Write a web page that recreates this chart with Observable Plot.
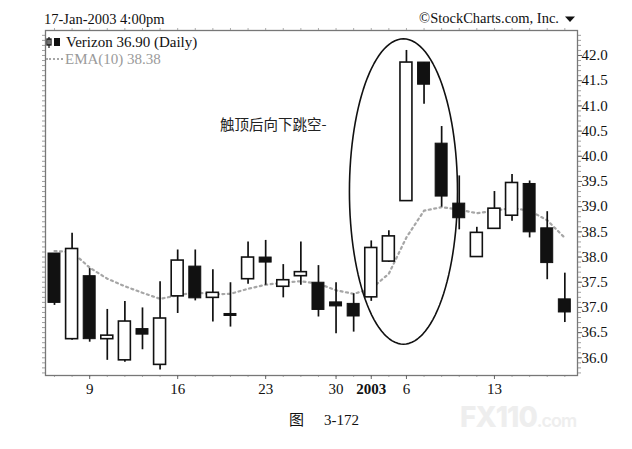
<!DOCTYPE html>
<html>
<head>
<meta charset="utf-8">
<script src="https://cdn.jsdelivr.net/npm/d3@7"></script>
<script src="https://cdn.jsdelivr.net/npm/@observablehq/plot@0.6"></script>
<style>
  html, body { margin: 0; padding: 0; background: #fff; }
  #wrap { position: relative; width: 632px; height: 449px; overflow: hidden; font-family: "Liberation Serif", serif; }
  .abs { position: absolute; white-space: nowrap; line-height: 1; }
</style>
</head>
<body>
<div id="wrap">
  <div class="abs" style="left:44px; top:12px; font-size:14.5px; color:#111;">17-Jan-2003 4:00pm</div>
  <div class="abs" style="right:73px; top:11px; font-size:14.5px; color:#111;">©StockCharts.com, Inc.</div>
  <svg class="abs" style="left:565px; top:16px;" width="11" height="7"><path d="M0,0.5 L10,0.5 L5,6 Z" fill="#111"/></svg>
  <div class="abs" style="left:460px; top:403px; font-family:Inter, sans-serif; font-weight:800; font-size:28px; color:#eeeeee; letter-spacing:-1px;">FX110<span style="font-size:18px; font-weight:600;">.com</span></div>
  <div class="abs" style="left:289px; top:411px; font-size:15px; color:#111;"><span style="font-family:'Noto Sans CJK SC';">图</span><span style="margin-left:20px;">3-172</span></div>
</div>
<script>
// ---- data (Verizon daily, Dec 5 2002 – Jan 17 2003) ----
const dates = ["Dec 5","Dec 6","Dec 9","Dec 10","Dec 11","Dec 12","Dec 13","Dec 16","Dec 17","Dec 18",
  "Dec 19","Dec 20","Dec 23","Dec 24","Dec 26","Dec 27","Dec 30","Dec 31","Jan 2","Jan 3",
  "Jan 6","Jan 7","Jan 8","Jan 9","Jan 10","Jan 13","Jan 14","Jan 15","Jan 16","Jan 17"];
const open  = [38.07,36.37,37.62,36.37,35.95,36.57,35.86,37.22,37.81,37.19,36.87,37.56,37.99,37.41,37.62,37.49,37.10,37.07,37.20,37.91,39.11,41.86,40.25,39.06,38.00,38.56,38.82,39.45,38.57,37.16];
const high  = [38.07,38.47,37.77,36.96,37.12,36.99,37.51,38.14,38.14,37.75,37.49,38.30,38.33,37.85,38.30,37.83,37.49,37.27,38.32,38.52,42.10,41.86,40.59,39.61,38.59,39.30,39.64,39.51,38.90,37.68];
const low   = [37.04,36.35,36.31,35.95,35.91,36.16,35.76,36.88,37.13,36.71,36.61,37.46,37.44,37.19,37.44,36.81,36.48,36.51,37.12,37.89,39.11,41.03,38.99,38.54,38.00,38.56,38.71,38.38,37.55,36.70];
const close = [37.09,38.16,36.37,36.44,36.72,36.46,36.78,37.93,37.18,37.29,36.83,37.99,37.89,37.54,37.70,36.95,37.02,36.82,38.18,38.41,41.86,41.42,39.20,38.77,38.48,38.96,39.47,38.49,37.88,36.90];
const ema10 = [38.12,38.10,37.79,37.57,37.42,37.29,37.17,37.24,37.30,37.26,37.27,37.37,37.45,37.49,37.52,37.47,37.34,37.27,37.37,37.67,38.39,38.92,38.99,38.94,38.87,38.92,38.97,38.92,38.73,38.38];

const tickDays   = ["Dec 9","Dec 16","Dec 23","Dec 30","Jan 2","Jan 6","Jan 13"];
const tickLabels = ["9","16","23","30","2003","6","13"];
const yTicks = [36.0,36.5,37.0,37.5,38.0,38.5,39.0,39.5,40.0,40.5,41.0,41.5,42.0];

// annotation: ellipse around the gap (center day index, center price, radii in days / price)
const gapNote = {text: "触顶后向下跳空-", dayIndex: 9.4, price: 40.61};
const ellipse = {cx: 19.83, cy: 39.30, rx: 3.07, ry: 3.03};

// ---- build ----
const rows = dates.map((d, i) => ({i, date: d, open: open[i], high: high[i], low: low[i], close: close[i], ema: ema10[i]}));
const up = rows.filter(r => r.close >= r.open);
const down = rows.filter(r => r.close < r.open);
const hw = 0.34;
const labelOf = new Map(tickDays.map((d, k) => [dates.indexOf(d), tickLabels[k]]));
const normalTicks = tickDays.filter(d => d !== "Jan 2").map(d => dates.indexOf(d));
const boldTicks = [dates.indexOf("Jan 2")];
const minorY = d3.range(357, 425).map(v => v / 10);
const ellPts = d3.range(0, 121).map(k => {
  const t = k / 120 * 2 * Math.PI;
  return {x: ellipse.cx + ellipse.rx * Math.cos(t), y: ellipse.cy + ellipse.ry * Math.sin(t)};
});

const chart = Plot.plot({
  width: 632,
  height: 449,
  marginTop: 30,
  marginBottom: 74,
  marginLeft: 45,
  marginRight: 55,
  style: {fontFamily: "Liberation Serif, serif", fontSize: "15px", color: "#111", background: "transparent", overflow: "visible"},
  x: {type: "linear", domain: [-0.511, 29.72]},
  y: {type: "linear", domain: [35.649, 42.496]},
  marks: [
    // minor ticks on frame
    Plot.axisY({anchor: "left", ticks: minorY, tickSize: 3, tickFormat: () => "", stroke: "#888", strokeWidth: 0.8, label: null}),
    Plot.axisY({anchor: "right", ticks: minorY, tickSize: 3, tickFormat: () => "", stroke: "#888", strokeWidth: 0.8, label: null}),
    Plot.axisX({anchor: "top", ticks: d3.range(0, 30), tickSize: 3, tickFormat: () => "", stroke: "#999", strokeWidth: 0.8, label: null}),
    Plot.axisX({anchor: "bottom", ticks: d3.range(0, 30), tickSize: 2, tickFormat: () => "", stroke: "#999", strokeWidth: 0.8, label: null}),
    Plot.frame({stroke: "#777", strokeWidth: 1.3}),
    // main axes
    Plot.axisY({anchor: "right", ticks: yTicks, tickFormat: d3.format(".1f"), tickSize: 4, tickPadding: 0, stroke: "#666", fill: "#111", fontSize: 15, label: null}),
    Plot.axisX({anchor: "bottom", ticks: normalTicks, tickFormat: i => labelOf.get(i), tickSize: 4, tickPadding: 4, stroke: "#666", fill: "#111", fontSize: 15, label: null}),
    Plot.axisX({anchor: "bottom", ticks: boldTicks, tickFormat: i => labelOf.get(i), tickSize: 4, tickPadding: 4, stroke: "#666", fill: "#111", fontSize: 15, fontWeight: "bold", label: null}),
    // EMA
    Plot.line(rows, {x: "i", y: "ema", stroke: "#a6a6a6", strokeWidth: 2.2, strokeDasharray: "2,3.5", curve: "linear"}),
    // wicks
    Plot.ruleX(rows, {x: "i", y1: "low", y2: "high", stroke: "#111", strokeWidth: 1.7}),
    // bodies
    Plot.rect(up, {x1: d => d.i - hw, x2: d => d.i + hw, y1: "open", y2: "close", fill: "#fff", stroke: "#111", strokeWidth: 1.6}),
    Plot.rect(down, {x1: d => d.i - hw, x2: d => d.i + hw, y1: "open", y2: "close", fill: "#111", stroke: "#111", strokeWidth: 1}),
    // annotation
    Plot.line(ellPts, {x: "x", y: "y", stroke: "#111", strokeWidth: 1.6}),
    Plot.text([gapNote], {x: "dayIndex", y: "price", text: "text", textAnchor: "start", fontFamily: "Noto Sans CJK SC", fontSize: 14.5, fill: "#222"})
  ]
});
chart.style.position = "absolute";
chart.style.left = "0px";
chart.style.top = "0px";
const wrap = document.getElementById("wrap");
wrap.insertBefore(chart, wrap.firstChild);

// legend (inside plot frame, top-left)
const leg = document.createElement("div");
leg.className = "abs";
leg.style.cssText = "left:46px; top:35px; font-size:15px; color:#111;";
leg.innerHTML = '<svg width="16" height="11" style="vertical-align:-1px;margin-right:4px"><rect x="1" y="2" width="4" height="6" fill="none" stroke="#111" stroke-width="1.3"/><line x1="3" y1="0" x2="3" y2="11" stroke="#111" stroke-width="1.2"/><rect x="8" y="1" width="6" height="8" fill="#111"/></svg>Verizon 36.90 (Daily)';
wrap.appendChild(leg);
const leg2 = document.createElement("div");
leg2.className = "abs";
leg2.style.cssText = "left:46px; top:52px; font-size:15px; color:#9a9a9a;";
leg2.innerHTML = '<span style="display:inline-block;width:17px;border-top:2px dotted #a6a6a6;vertical-align:4px;margin-right:2px"></span>EMA(10) 38.38';
wrap.appendChild(leg2);
</script>
</body>
</html>
